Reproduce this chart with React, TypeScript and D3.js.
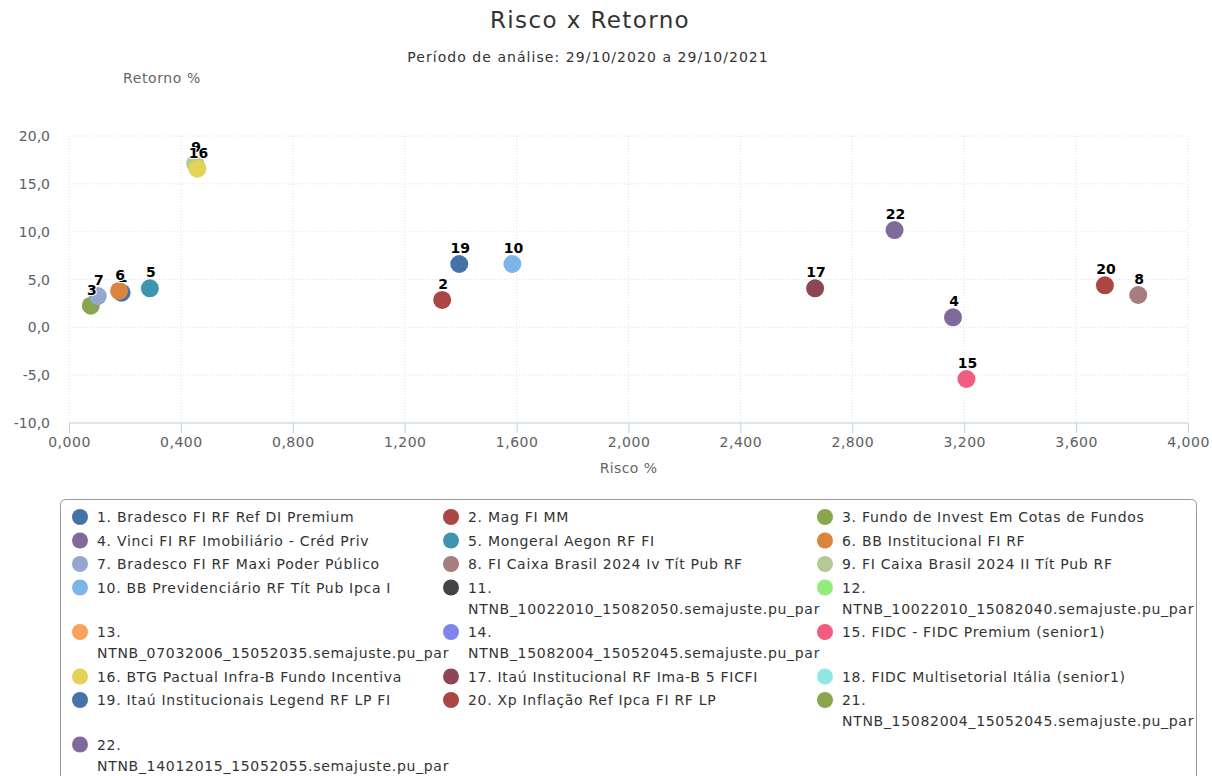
import React, { useEffect, useRef } from 'react';
import * as d3 from 'd3';

const fundNames = [
  'Bradesco FI RF Ref DI Premium',
  'Mag FI MM',
  'Fundo de Invest Em Cotas de Fundos',
  'Vinci FI RF Imobiliário - Créd Priv',
  'Mongeral Aegon RF FI',
  'BB Institucional FI RF',
  'Bradesco FI RF Maxi Poder Público',
  'FI Caixa Brasil 2024 Iv Tít Pub RF',
  'FI Caixa Brasil 2024 II Tít Pub RF',
  'BB Previdenciário RF Tít Pub Ipca I',
  'NTNB_10022010_15082050.semajuste.pu_par',
  'NTNB_10022010_15082040.semajuste.pu_par',
  'NTNB_07032006_15052035.semajuste.pu_par',
  'NTNB_15082004_15052045.semajuste.pu_par',
  'FIDC - FIDC Premium (senior1)',
  'BTG Pactual Infra-B Fundo Incentiva',
  'Itaú Institucional RF Ima-B 5 FICFI',
  'FIDC Multisetorial Itália (senior1)',
  'Itaú Institucionais Legend RF LP FI',
  'Xp Inflação Ref Ipca FI RF LP',
  'NTNB_15082004_15052045.semajuste.pu_par',
  'NTNB_14012015_15052055.semajuste.pu_par',
];

// Risco % (x) and Retorno % (y); null = not plotted
const riskValues: (number | null)[] = [
  0.188, 1.334, 0.078, 3.16, 0.289, 0.179, 0.103, 3.822, 0.451, 1.585,
  null, null, null, null, 3.208, 0.459, 2.667, null, 1.395, 3.703, null, 2.951,
];
const returnValues: (number | null)[] = [
  3.62, 2.86, 2.26, 1.05, 4.08, 3.8, 3.27, 3.38, 17.15, 6.62,
  null, null, null, null, -5.4, 16.58, 4.08, null, 6.62, 4.39, null, 10.17,
];

const seriesColors = [
  '#4572A7', '#AA4643', '#89A54E', '#80699B', '#3D96AE', '#DB843D', '#92A8CD', '#A47D7C', '#B5CA92',
  '#7cb5ec', '#434348', '#90ed7d', '#f7a35c', '#8085e9', '#f15c80', '#e4d354', '#8d4653', '#91e8e1',
  '#4572A7', '#AA4643', '#89A54E', '#80699B',
];

const xTicks = [0, 0.4, 0.8, 1.2, 1.6, 2.0, 2.4, 2.8, 3.2, 3.6, 4.0];
const yTicks = [-10, -5, 0, 5, 10, 15, 20];

const FONT = '"DejaVu Sans", sans-serif';

const App: React.FC = () => {
  const svgRef = useRef<SVGSVGElement>(null);

  useEffect(() => {
    if (!svgRef.current) return;
    const svg = d3.select(svgRef.current);
    svg.selectAll('*').remove();

    const width = 1212;
    const height = 776;
    const plot = { left: 69, right: 1188, top: 136, bottom: 423 };

    const x = d3.scaleLinear().domain([0, 4]).range([plot.left, plot.right]);
    const y = d3.scaleLinear().domain([-10, 20]).range([plot.bottom, plot.top]);
    const fmt = (v: number, digits: number) => v.toFixed(digits).replace('.', ',');

    svg.attr('width', width).attr('height', height).style('font-family', FONT);

    svg.append('text')
      .attr('x', 590).attr('y', 28)
      .attr('text-anchor', 'middle')
      .attr('font-size', 23).attr('letter-spacing', 1.4).attr('fill', '#333')
      .text('Risco x Retorno');
    svg.append('text')
      .attr('x', 588).attr('y', 62)
      .attr('text-anchor', 'middle')
      .attr('font-size', 14).attr('letter-spacing', 1.05).attr('fill', '#333')
      .text('Período de análise: 29/10/2020 a 29/10/2021');
    svg.append('text')
      .attr('x', 162).attr('y', 83)
      .attr('text-anchor', 'middle')
      .attr('font-size', 14).attr('letter-spacing', 0.6).attr('fill', '#666')
      .text('Retorno %');

    // grid
    const grid = svg.append('g');
    grid.selectAll('.vg').data(xTicks).enter().append('line')
      .attr('x1', (d) => x(d)).attr('x2', (d) => x(d))
      .attr('y1', plot.top).attr('y2', plot.bottom)
      .attr('stroke', '#e0e0e0').attr('stroke-dasharray', '1,2');
    grid.selectAll('.hg').data(yTicks).enter().append('line')
      .attr('x1', plot.left).attr('x2', plot.right)
      .attr('y1', (d) => y(d)).attr('y2', (d) => y(d))
      .attr('stroke', '#e0e0e0').attr('stroke-dasharray', '1,2');

    // x axis
    const xAxis = svg.append('g').attr('transform', `translate(0,${plot.bottom})`)
      .call(d3.axisBottom(x).tickValues(xTicks).tickSize(10).tickPadding(4).tickFormat((d) => fmt(+d, 3)));
    xAxis.select('.domain').attr('stroke', '#C0D0E0').attr('d', `M${plot.left},0H${plot.right}`);
    xAxis.selectAll('.tick line').attr('stroke', '#C0D0E0');
    xAxis.selectAll('.tick text')
      .attr('fill', '#606060').attr('font-size', 14).attr('letter-spacing', 0.5).attr('font-family', FONT);

    // y axis labels
    svg.append('g').selectAll('text').data(yTicks).enter().append('text')
      .attr('x', 50).attr('y', (d) => y(d) + 5)
      .attr('text-anchor', 'end')
      .attr('font-size', 14).attr('fill', '#606060')
      .text((d) => fmt(d, 1));

    svg.append('text')
      .attr('x', (plot.left + plot.right) / 2).attr('y', 473)
      .attr('text-anchor', 'middle')
      .attr('font-size', 14).attr('letter-spacing', 0.4).attr('fill', '#666')
      .text('Risco %');

    const points = fundNames
      .map((name, i) => ({ i, name, rx: riskValues[i], ry: returnValues[i] }))
      .filter((d) => d.rx !== null && d.ry !== null);

    svg.append('g').selectAll('circle').data(points).enter().append('circle')
      .attr('cx', (d) => x(d.rx as number))
      .attr('cy', (d) => y(d.ry as number))
      .attr('r', 9)
      .attr('fill', (d) => seriesColors[d.i]);

    svg.append('g').selectAll('text').data(points).enter().append('text')
      .attr('x', (d) => x(d.rx as number) + 1)
      .attr('y', (d) => y(d.ry as number) - 11)
      .attr('text-anchor', 'middle')
      .attr('font-size', 14).attr('font-weight', 'bold')
      .attr('fill', '#000')
      .attr('stroke', '#fff').attr('stroke-width', 2).attr('paint-order', 'stroke')
      .attr('stroke-linejoin', 'round')
      .text((d) => d.i + 1);

    // legend
    const legend = svg.append('g');
    legend.append('rect')
      .attr('x', 60.5).attr('y', 499.5).attr('width', 1136).attr('height', 320)
      .attr('rx', 5).attr('fill', 'none').attr('stroke', '#999');

    const colX = [80, 451, 825];
    const lineH = 21;
    const rowGap = 23.5;
    const items = fundNames.map((name, i) => {
      const label = `${i + 1}. ${name}`;
      const lines = label.length > 40 ? [`${i + 1}.`, name] : [label];
      return { i, lines };
    });
    let rowY = 517;
    for (let r = 0; r < Math.ceil(items.length / 3); r++) {
      const row = items.slice(r * 3, r * 3 + 3);
      row.forEach((it, c) => {
        const g = legend.append('g');
        g.append('circle').attr('cx', colX[c]).attr('cy', rowY).attr('r', 8).attr('fill', seriesColors[it.i]);
        it.lines.forEach((ln, k) => {
          g.append('text')
            .attr('x', colX[c] + 17).attr('y', rowY + 5 + k * lineH)
            .attr('font-size', 14).attr('letter-spacing', 0.7).attr('fill', '#333')
            .text(ln);
        });
      });
      const maxLines = d3.max(row, (it) => it.lines.length) || 1;
      rowY += rowGap + (maxLines - 1) * lineH;
    }
  }, []);

  return (
    <div style={{ position: 'absolute', left: 0, top: 0, background: '#fff' }}>
      <svg ref={svgRef} width="1212" height="776"></svg>
    </div>
  );
};

export default App;
